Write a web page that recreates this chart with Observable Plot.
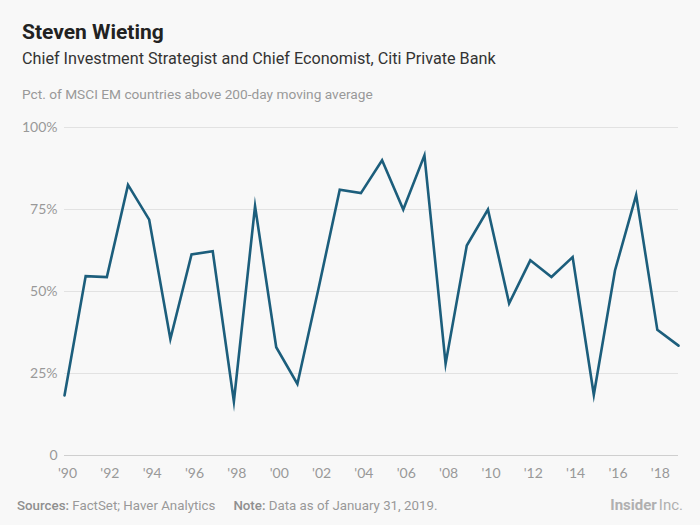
<!DOCTYPE html>
<html><head><meta charset="utf-8">
<script src="https://cdn.jsdelivr.net/npm/d3@7"></script>
<script src="https://cdn.jsdelivr.net/npm/@observablehq/plot@0.6"></script>
<style>
html,body{margin:0;padding:0;background:#f8f8f8;}
#wrap{position:relative;width:700px;height:525px;background:#f8f8f8;font-family:Roboto,"Noto Sans",sans-serif;overflow:hidden;}
.t{position:absolute;white-space:nowrap;line-height:1;}
#title{left:22px;top:22px;font-size:21px;font-weight:700;color:#222;}
#subtitle{left:22px;top:51px;font-size:16.2px;color:#333;}
#label{left:22px;top:88px;font-size:13.7px;color:#999;}
#source{left:17px;top:499px;font-size:13.3px;color:#999;}
#source b{font-weight:500;color:#8f8f8f;}
#brand{right:17px;top:498px;font-size:15px;color:#b0b0b0;}
#brand b{font-weight:700;}
#chart{position:absolute;left:0;top:110px;}
</style>
</head><body>
<div id="wrap">
  <div class="t" id="title">Steven Wieting</div>
  <div class="t" id="subtitle">Chief Investment Strategist and Chief Economist, Citi Private Bank</div>
  <div class="t" id="label">Pct. of MSCI EM countries above 200-day moving average</div>
  <div id="chart"></div>
  <div class="t" id="source"><b>Sources:</b> FactSet; Haver Analytics<span style="display:inline-block;width:18px"></span><b>Note:</b> Data as of January 31, 2019.</div>
  <div class="t" id="brand"><b>Insider</b><span style="display:inline-block;width:2px"></span>Inc.</div>
</div>
<script>
const years = [1990,1991,1992,1993,1994,1995,1996,1997,1998,1999,2000,2001,2002,2003,2004,2005,2006,2007,2008,2009,2010,2011,2012,2013,2014,2015,2016,2017,2018,2019];
const values = [18.3,54.7,54.4,82.5,71.9,35.5,61.3,62.3,16.5,76,33,21.8,51,81,80,90,75,91.5,28,64,75,46.4,59.5,54.4,60.5,18.5,56.4,79.4,38.3,33.5];
const xTicks = [1990,1992,1994,1996,1998,2000,2002,2004,2006,2008,2010,2012,2014,2016,2018];
const yTicks = [0,25,50,75,100];

const data = years.map((y,i)=>({year:y, value:values[i]}));

const chart = Plot.plot({
  width: 700,
  height: 380,
  marginTop: 17,
  marginBottom: 35,
  marginLeft: 64,
  marginRight: 22,
  style: {background:"transparent", fontFamily:"Lato, 'Open Sans', sans-serif", fontSize:"14px", color:"#999"},
  x: {domain:[1990,2019]},
  y: {domain:[0,100]},
  marks: [
    Plot.ruleY(yTicks.filter(d=>d>0), {stroke:"#e2e2e2", strokeWidth:1}),
    Plot.ruleY([0], {stroke:"#cfcfcf", strokeWidth:1}),
    Plot.axisY({ticks:yTicks, tickSize:0, tickPadding:7, tickFormat:d=>d===0?"0":d+"%", label:null}),
    Plot.axisX({ticks:xTicks, tickSize:0, tickPadding:13, dx:3, tickFormat:d=>"'"+String(d).slice(2), label:null}),
    Plot.line(data, {x:"year", y:"value", stroke:"#1c5e7c", strokeWidth:2.6, strokeLinejoin:"miter", strokeMiterlimit:12})
  ]
});
document.getElementById("chart").appendChild(chart);
</script>
</body></html>
